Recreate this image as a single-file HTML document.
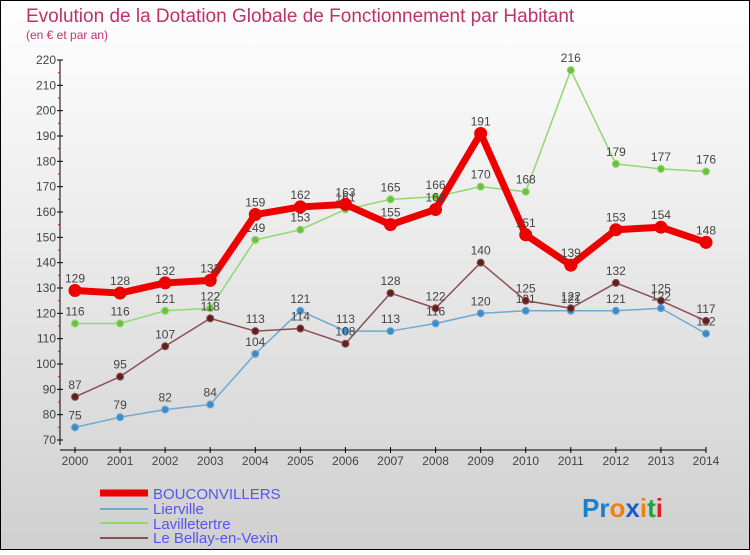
<!DOCTYPE html>
<html><head><meta charset="utf-8"><style>
body{margin:0;}
#c{width:750px;height:550px;position:relative;}
svg text{font-family:"Liberation Sans",sans-serif;}
</style></head><body>
<div id="c">
<svg id="s" width="750" height="550" xmlns="http://www.w3.org/2000/svg">
<defs><linearGradient id="bg" x1="0" y1="0" x2="0" y2="1"><stop offset="0" stop-color="#ffffff"/><stop offset="1" stop-color="#d0d0d0"/></linearGradient></defs>
<rect x="0.5" y="0.5" width="749" height="549" fill="url(#bg)" stroke="#000"/>
<text x="26" y="22" font-size="19" fill="#c0306a">Evolution de la Dotation Globale de Fonctionnement par Habitant</text>
<text x="26" y="39" font-size="12" fill="#c0306a">(en € et par an)</text>
<g id="axes"></g><g id="series"></g>
<g>
<line x1="100" y1="493" x2="148" y2="493" stroke="#e00" stroke-width="7"/>
<text x="153" y="499" font-size="15" fill="#5555ee">BOUCONVILLERS</text>
<line x1="100" y1="509" x2="148" y2="509" stroke="#6fa8d0" stroke-width="2"/>
<text x="153" y="514" font-size="15" fill="#5555ee">Lierville</text>
<line x1="100" y1="523" x2="148" y2="523" stroke="#8fd870" stroke-width="2"/>
<text x="153" y="529" font-size="15" fill="#5555ee">Lavilletertre</text>
<line x1="100" y1="538" x2="148" y2="538" stroke="#8a5050" stroke-width="2"/>
<text x="153" y="543" font-size="15" fill="#5555ee">Le Bellay-en-Vexin</text>
</g>
<text x="582" y="517" font-size="26" font-weight="bold"><tspan fill="#1a80d0">Pr</tspan><tspan fill="#f08010">o</tspan><tspan fill="#1a60c0">x</tspan><tspan fill="#f08010">i</tspan><tspan fill="#20a040">t</tspan><tspan fill="#e02020">i</tspan></text>
</svg></div>
<script>
const years=[2000,2001,2002,2003,2004,2005,2006,2007,2008,2009,2010,2011,2012,2013,2014];
const yTicks=[70,80,90,100,110,120,130,140,150,160,170,180,190,200,210,220];
const bouconvillers=[129,128,132,133,159,162,163,155,161,191,151,139,153,154,148];
const lierville=[75,79,82,84,104,121,113,113,116,120,121,121,121,122,112];
const lavilletertre=[116,116,121,122,149,153,161,165,166,170,168,216,179,177,176];
const bellay=[87,95,107,118,113,114,108,128,122,140,125,122,132,125,117];
const NS="http://www.w3.org/2000/svg";
const X0=75,X1=706,Y0=440,Y1=60,VMIN=70,VMAX=220;
const x=i=>X0+(X1-X0)*i/(years.length-1);
const y=v=>Y0-(v-VMIN)*(Y0-Y1)/(VMAX-VMIN);
function mk(t,a,p){const e=document.createElementNS(NS,t);for(const k in a)e.setAttribute(k,a[k]);p.appendChild(e);return e;}
const ax=document.getElementById('axes');
const yl=mk('line',{x1:60,y1:Y1,x2:60,y2:Y0+5,stroke:'#000'},ax);


const xl=mk('line',{x1:60,y1:450,x2:X1,y2:450,stroke:'#000'},ax);


yTicks.forEach(v=>{
 mk('line',{x1:57,y1:y(v),x2:63,y2:y(v),stroke:'#000'},ax);
 if(v<VMAX) mk('line',{x1:58,y1:y(v+5),x2:60,y2:y(v+5),stroke:'#e00'},ax);
 const t=mk('text',{x:56,y:y(v)+4,'font-size':12,'text-anchor':'end',fill:'#444'},ax);
 t.textContent=v;
 
 
});
years.forEach((yr,i)=>{
 mk('line',{x1:x(i),y1:447,x2:x(i),y2:453,stroke:'#000'},ax);
 const t=mk('text',{x:x(i),y:465,'font-size':12,'text-anchor':'middle',fill:'#444'},ax);
 t.textContent=yr;
 
 
});
const sg=document.getElementById('series');
function draw(vals,color,w,r,dot,name){
 const g=mk('g',{},sg);
 
 
 const pl=mk('polyline',{points:vals.map((v,i)=>x(i)+','+y(v)).join(' '),fill:'none',stroke:color,'stroke-width':w,'stroke-linejoin':'round'},g);
 
 
 vals.forEach((v,i)=>{
  const c=mk('circle',{cx:x(i),cy:y(v),r:r,fill:dot,stroke:color,'stroke-width':1},g);
  
  
  const t=mk('text',{x:x(i),y:y(v)-8,'font-size':12,'text-anchor':'middle',fill:'#444'},g);
  t.textContent=v;
  
  
 });
}
draw(lierville,'#6fa8d0',1.5,3.5,'#3d8cc8','lierville');
draw(lavilletertre,'#8fd870',1.5,3.5,'#6cc040','lavilletertre');
draw(bellay,'#8a5050',1.5,3.5,'#602020','le-bellay');
draw(bouconvillers,'#ee0000',7,6,'#ee0000','bouconvillers');
</script>
</body></html>
